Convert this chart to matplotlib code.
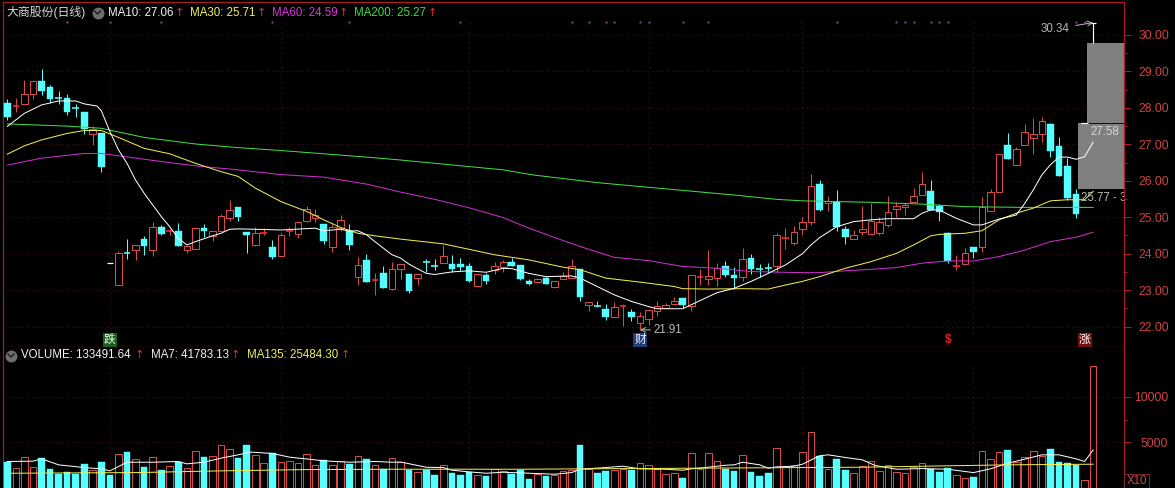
import matplotlib
matplotlib.use('Agg')
import matplotlib.pyplot as plt
from matplotlib.patches import Rectangle
from matplotlib.lines import Line2D
import numpy as np

plt.rcParams['font.family'] = ['Liberation Sans', 'Noto Sans CJK SC', 'DejaVu Sans']

opens = [28.14, 28.03, 28.10, 28.37, 28.74, 28.56, 28.29, 28.28, 28.00, 27.89,
         27.27, 27.31, 23.75, 23.13, 24.02, 24.10, 24.41, 24.09, 24.73, 24.62,
         24.63, 24.09, 24.14, 24.71, 24.49, 24.61, 24.99, 25.27, 24.60, 24.24,
         24.56, 24.19, 23.95, 24.60, 24.53, 24.90, 24.97, 24.82, 24.17, 24.70,
         24.61, 23.35, 23.82, 23.26, 23.46, 23.03, 23.58, 23.45, 23.33, 23.80,
         23.66, 23.75, 23.71, 23.72, 23.66, 23.10, 23.41, 23.56, 23.64, 23.78,
         23.69, 23.24, 23.21, 23.33, 23.09, 23.30, 23.33, 23.59, 22.59, 22.57,
         22.48, 22.25, 22.55, 22.40, 22.11, 22.20, 22.44, 22.52, 22.62, 22.78,
         22.57, 23.36, 23.30, 23.33, 23.66, 23.41, 23.35, 23.88, 23.60, 23.63,
         23.67, 24.41, 24.28, 24.69, 24.88, 25.91, 25.38, 25.43, 24.67, 24.40,
         24.59, 24.54, 24.58, 24.79, 25.22, 25.29, 25.41, 25.62, 25.71, 25.30,
         24.56, 23.64, 23.71, 24.18, 24.18, 25.18, 25.70, 26.98, 26.43, 26.97,
         27.17, 27.28, 27.56, 26.95, 26.40, 25.63, 27.58, 30.33]
closes = [27.74, 28.05, 28.37, 28.74, 28.45, 28.24, 28.27, 27.90, 27.98, 27.41,
          27.41, 26.39, 23.74, 24.03, 24.00, 24.23, 24.22, 24.73, 24.55, 24.64,
          24.21, 24.20, 24.70, 24.63, 24.62, 25.03, 25.19, 25.01, 24.52, 24.56,
          24.58, 23.92, 24.51, 24.62, 24.86, 25.22, 25.07, 24.36, 24.73, 24.92,
          24.24, 23.68, 23.23, 23.28, 23.05, 23.57, 23.71, 22.99, 23.44, 23.77,
          23.64, 23.95, 23.57, 23.64, 23.26, 23.44, 23.26, 23.67, 23.76, 23.67,
          23.31, 23.18, 23.30, 23.17, 23.24, 23.39, 23.65, 22.82, 22.67, 22.55,
          22.27, 22.55, 22.58, 22.27, 22.28, 22.45, 22.56, 22.60, 22.69, 22.60,
          23.41, 23.38, 23.39, 23.60, 23.41, 23.34, 23.85, 23.57, 23.58, 23.61,
          24.50, 24.43, 24.59, 24.86, 25.87, 25.20, 25.45, 24.72, 24.47, 24.50,
          24.69, 24.91, 24.87, 25.14, 25.32, 25.34, 25.59, 25.92, 25.20, 25.14,
          23.81, 23.66, 24.01, 24.06, 25.27, 25.70, 26.73, 26.61, 26.87, 27.33,
          27.27, 27.63, 26.83, 26.12, 25.53, 25.10, 27.59, 30.34]
highs = [28.25, 28.26, 28.77, 28.74, 29.06, 28.63, 28.47, 28.38, 28.11, 27.89,
         27.50, 27.31, 23.75, 24.07, 24.41, 24.23, 24.49, 24.86, 24.78, 24.67,
         24.84, 24.20, 24.70, 24.82, 24.62, 25.09, 25.47, 25.29, 24.60, 24.74,
         24.71, 24.38, 24.58, 24.74, 24.86, 25.31, 25.22, 24.82, 24.82, 25.06,
         24.82, 23.90, 23.99, 23.46, 23.66, 23.78, 23.71, 23.45, 23.44, 23.85,
         23.85, 24.24, 23.97, 23.88, 23.74, 23.44, 23.46, 23.77, 23.83, 23.88,
         23.69, 23.30, 23.33, 23.35, 23.24, 23.51, 23.86, 23.59, 22.67, 22.71,
         22.61, 22.67, 22.62, 22.49, 22.40, 22.45, 22.71, 22.66, 22.82, 22.78,
         23.41, 23.57, 24.10, 23.74, 23.80, 23.63, 24.15, 23.99, 23.72, 23.74,
         24.56, 24.70, 24.76, 25.02, 26.19, 26.02, 25.57, 25.75, 24.76, 24.65,
         25.31, 25.40, 25.02, 25.58, 25.43, 25.38, 25.80, 26.23, 26.02, 25.36,
         24.59, 23.97, 24.15, 24.18, 25.55, 25.77, 26.73, 27.30, 26.94, 27.56,
         27.72, 27.74, 27.58, 27.19, 26.62, 25.77, 27.59, 30.34]
lows = [27.67, 27.90, 28.10, 28.24, 28.35, 28.13, 28.11, 27.81, 27.74, 27.28,
        26.97, 26.25, 23.74, 23.13, 23.85, 23.83, 23.97, 23.94, 24.52, 24.52,
        24.21, 24.01, 24.14, 24.45, 24.34, 24.61, 24.90, 24.91, 24.01, 24.20,
        24.52, 23.86, 23.95, 24.49, 24.42, 24.88, 24.88, 24.27, 24.06, 24.61,
        24.09, 23.14, 23.21, 22.87, 23.05, 23.01, 23.30, 22.93, 23.13, 23.51,
        23.56, 23.75, 23.51, 23.53, 23.22, 23.10, 23.17, 23.45, 23.51, 23.65,
        23.28, 23.14, 23.21, 23.17, 23.05, 23.30, 23.33, 22.71, 22.43, 22.53,
        22.17, 22.25, 22.02, 22.14, 21.91, 22.05, 22.30, 22.50, 22.58, 22.52,
        22.44, 23.14, 23.14, 23.12, 23.37, 23.03, 23.26, 23.44, 23.35, 23.46,
        23.46, 24.13, 24.24, 24.50, 24.79, 25.16, 25.18, 24.61, 24.27, 24.40,
        24.51, 24.54, 24.52, 24.74, 25.02, 25.06, 25.41, 25.62, 25.20, 24.91,
        23.74, 23.54, 23.69, 23.88, 24.04, 25.18, 25.70, 26.61, 26.43, 26.97,
        26.74, 27.07, 26.66, 26.12, 25.48, 24.99, 27.58, 29.79]
volumes = [2830, 2170, 3390, 2280, 3280, 2060, 1580, 1730, 1580, 2610,
           2020, 2830, 1435, 3720, 3940, 3130, 2320, 3390, 1950, 2390,
           2830, 2240, 4010, 3420, 3500, 4710, 4270, 3310, 4710, 3610,
           2720, 3790, 2830, 2940, 2720, 3720, 2500, 3050, 2500, 2910,
           2610, 3500, 3160, 2500, 2060, 3280, 2830, 2020, 1730, 1950,
           1435, 2500, 1660, 1435, 1730, 1400, 1325, 2060, 1840, 1580,
           1990, 995, 1580, 1325, 1400, 1840, 1990, 4750, 2100, 1620,
           1880, 1950, 2100, 1990, 2720, 2500, 2100, 1510, 1620, 1070,
           3830, 2060, 3830, 2940, 2100, 1880, 3610, 1770, 1325, 1660,
           4380, 2280, 2500, 3940, 6150, 3530, 2100, 3200, 1990, 1620,
           2360, 2940, 1880, 2470, 1770, 1620, 2320, 2720, 2060, 1800,
           2210, 1435, 1070, 1215, 4050, 3160, 3940, 4200, 2800, 3390,
           4050, 3530, 4310, 2830, 2720, 2470, 850, 13349]

ma10_x = [0, 2, 4, 6, 8, 9, 10.5, 11, 12, 13, 14, 15, 16, 17, 18, 19, 20, 21, 22, 24, 25, 26, 27, 29, 32, 36, 37,
          39, 40, 41, 42, 43, 44, 45, 46, 47, 49, 50, 52, 54, 56, 58, 59, 61, 63, 66, 67, 69, 71, 73, 75, 76, 79,
          81, 83, 85, 87, 89, 91, 93, 94, 95, 97, 99, 101, 103, 106, 107, 108, 109, 111, 113, 114, 116, 118, 119,
          120, 121, 122, 123, 124, 125, 126, 127]
ma10_y = [27.49, 27.85, 28.08, 28.19, 28.19, 28.11, 28.05, 27.92, 27.35, 26.85, 26.48, 26.02, 25.66, 25.34, 25.02,
          24.74, 24.42, 24.24, 24.33, 24.49, 24.56, 24.67, 24.68, 24.67, 24.65, 24.70, 24.63, 24.67, 24.62, 24.63,
          24.52, 24.33, 24.15, 23.97, 23.88, 23.71, 23.46, 23.43, 23.50, 23.53, 23.49, 23.60, 23.59, 23.46, 23.37,
          23.39, 23.33, 23.10, 22.87, 22.69, 22.55, 22.49, 22.49, 22.71, 22.93, 23.05, 23.24, 23.46, 23.69, 24.00,
          24.24, 24.44, 24.74, 24.88, 24.93, 24.96, 24.96, 25.11, 25.20, 25.20, 24.97, 24.79, 24.79, 24.95, 25.06,
          25.38, 25.75, 26.16, 26.44, 26.65, 26.65, 26.59, 26.66, 27.06]
ma30_x = [0, 2, 4, 7, 9, 11, 13, 16, 19, 22, 25, 27, 29, 32, 35, 37, 39, 41, 43, 46, 51, 54, 57, 61, 65, 67, 70, 74,
          78, 79, 82, 86, 89, 91, 93, 95, 98, 101, 104, 106, 108, 109, 112, 114, 116, 118, 120, 122, 124, 126, 127]
ma30_y = [26.73, 26.96, 27.12, 27.30, 27.38, 27.38, 27.19, 26.89, 26.74, 26.48, 26.25, 26.12, 25.80, 25.43, 25.16,
          24.93, 24.72, 24.56, 24.49, 24.40, 24.27, 24.12, 23.97, 23.83, 23.63, 23.56, 23.33, 23.22, 23.10, 23.04,
          23.03, 23.04, 23.03, 23.14, 23.24, 23.37, 23.60, 23.78, 24.01, 24.24, 24.49, 24.53, 24.56, 24.63, 24.93,
          25.11, 25.25, 25.45, 25.48, 25.48, 25.71]
ma60_x = [0, 4, 9, 11, 16, 22, 27, 32, 37, 42, 46, 50, 54, 58, 61, 65, 68, 71, 75, 79, 83, 87, 93, 95, 98, 101, 104,
          107, 110, 113, 116, 119, 122, 125, 127]
ma60_y = [26.43, 26.62, 26.75, 26.75, 26.59, 26.41, 26.30, 26.17, 26.10, 25.91, 25.69, 25.49, 25.26, 24.99, 24.70,
          24.36, 24.12, 23.90, 23.81, 23.65, 23.60, 23.51, 23.48, 23.48, 23.53, 23.57, 23.62, 23.74, 23.80, 23.80,
          23.92, 24.10, 24.33, 24.45, 24.59]
ma200_x = [0, 7, 11, 16, 22, 27, 32, 37, 42, 46, 58, 61.5, 69, 76, 85, 90, 93, 101, 107, 112, 119, 127]
ma200_y = [27.56, 27.50, 27.44, 27.19, 27.01, 26.91, 26.83, 26.74, 26.65, 26.57, 26.30, 26.16, 25.95, 25.80, 25.61,
           25.49, 25.45, 25.41, 25.36, 25.29, 25.27, 25.27]

vol_ma7_x = [0, 3, 4, 6, 9, 11, 12, 14, 17, 20, 21, 23, 25, 27, 28.5, 31, 33, 36, 37, 40, 43, 45, 46, 48, 49, 51, 52,
             54, 56, 58, 61, 64, 66, 67, 70, 72, 74, 77, 79, 80, 82, 84, 85, 86, 88, 89, 90, 92, 93, 95, 96, 98, 100,
             101.5, 104, 107, 110, 113, 115, 117, 119, 121, 123, 125, 126, 127]
vol_ma7_y = [2910, 2940, 3200, 2540, 2240, 2100, 1880, 2830, 2830, 2910, 2650, 2830, 3275, 3640, 3940, 3790, 3385,
             3090, 2980, 2830, 2910, 2830, 2850, 2470, 2280, 2245, 1950, 1770, 1620, 1730, 1620, 1510, 1690, 2060,
             2245, 2390, 2100, 2060, 1950, 2100, 2280, 2500, 2540, 2830, 2540, 2170, 2320, 2390, 2610, 3530, 3640,
             3350, 3090, 2470, 2060, 2130, 2060, 1690, 2100, 2720, 3165, 3640, 3640, 3200, 2910, 4178]
vol_ma135_x = [0, 15, 25, 35, 46, 60, 80, 100, 117, 127]
vol_ma135_y = [1620, 1690, 1880, 2020, 2060, 2060, 2170, 2280, 2540, 2610]

limit_bars = [12, 126, 127]
signal_dots = [7, 12, 18, 31, 40, 53, 66, 68, 70, 71, 74, 75, 79, 82, 97, 104, 105, 106, 108, 109, 110, 125, 126]
grid_bars = [12, 32, 54, 75, 93, 113]
gap_bars = [125, 126]
gap_low = [25.77, 27.58]
gap_high = [27.58, 29.79]
price_ticks = [22, 23, 24, 25, 26, 27, 28, 29, 30]
vol_ticks = [5000, 10000]

opens = np.array(opens)
closes = np.array(closes)
highs = np.array(highs)
lows = np.array(lows)
volumes = np.array(volumes)
xs = np.arange(len(opens))
up = closes > opens

RED = '#d84a4a'
CYAN = '#55ffff'
AXIS = '#a81c24'
GRID = '#5e1a1a'
LABEL = '#cf4444'
PX = 0.72  # one pixel in points at dpi 100


def pt(x, y):
    return x / 1175, 1 - y / 488


fig = plt.figure(figsize=(11.75, 4.88), dpi=100, facecolor='black')
ax1 = fig.add_axes([3 / 1175, 1 - 347 / 488, 1120.5 / 1175, 345 / 488], facecolor='black')
ax2 = fig.add_axes([3 / 1175, 0, 1120.5 / 1175, 141 / 488], facecolor='black')
x_left, x_right = -0.503, 130.55
width = 0.78

for ax in (ax1, ax2):
    ax.set_xlim(x_left, x_right)
    ax.set_xticks([])
    for s in ax.spines.values():
        s.set_color(AXIS)
        s.set_linewidth(PX * 1.2)
    ax.yaxis.tick_right()
ax2.spines['bottom'].set_visible(False)
ax2.spines['top'].set_visible(False)

# price panel
ax1.set_ylim(21.44, 30.905)
ax1.set_yticks(price_ticks)
ax1.set_yticklabels(['%.2f' % t for t in price_ticks])
ax1.set_yticks(np.array(price_ticks[:-1]) + 0.5, minor=True)
ax1.tick_params(axis='y', which='major', colors=AXIS, labelcolor=LABEL, length=5, width=PX, pad=5.5, labelsize=8.7)
ax1.tick_params(axis='y', which='minor', colors=AXIS, length=2.5, width=PX)
ax1.hlines(price_ticks, 0, x_right, color=GRID, lw=PX, linestyles=(0, (1, 4)), zorder=1)
ax1.vlines(grid_bars, 21.82, 30.36, color=GRID, lw=PX, linestyles=(0, (1, 4)), zorder=1)

for b, lo, hi in zip(gap_bars, gap_low, gap_high):
    ax1.add_patch(Rectangle((b + 0.27, lo), x_right - b - 0.27, hi - lo, facecolor='#808080', edgecolor='none', zorder=2))
ax1.hlines(gap_low[1], gap_bars[1] + 0.27, x_right, color='#101010', lw=PX, zorder=2)

for i in xs:
    if i in limit_bars:
        ax1.vlines(i, lows[i], highs[i], color='white', lw=PX * 1.2, zorder=4)
        ax1.hlines(highs[i], i - width / 2, i + width / 2, color='white', lw=PX * 1.2, zorder=4)
        continue
    col = RED if up[i] else CYAN
    ax1.vlines(i, lows[i], highs[i], color=col, lw=PX, zorder=3)
    if abs(closes[i] - opens[i]) < 0.04:
        ax1.hlines((opens[i] + closes[i]) / 2, i - width / 2, i + width / 2,
                   color='#ff2830' if up[i] else CYAN, lw=PX * 1.6, zorder=4)
    elif up[i]:
        ax1.bar(i, closes[i] - opens[i], width, opens[i], facecolor='black', edgecolor=col, lw=PX, zorder=4)
    else:
        ax1.bar(i, opens[i] - closes[i], width, closes[i], facecolor=col, edgecolor=col, lw=0.3, zorder=4)

ax1.plot(ma200_x, ma200_y, color='#40e040', lw=PX, zorder=5)
ax1.plot(ma60_x, ma60_y, color='#d030d0', lw=PX, zorder=5)
ax1.plot(ma30_x, ma30_y, color='#f0f050', lw=PX, zorder=5)
ax1.plot(ma10_x, ma10_y, color='white', lw=PX, zorder=6)
ax1.plot(signal_dots, [30.36] * len(signal_dots), ls='none', marker='s', ms=1.4, mew=0, color='#a040a0', zorder=5)

# marks at the foot of the price panel
marks = [(12, '跌', '#1d5e1d', '#e8ffe8'), (74, '财', '#1f3f78', '#f0f0ff'), (126, '涨', '#701010', '#ffffff')]
for b, s, bg, fg in marks:
    ax1.text(b, 21.64, s, color=fg, fontsize=8.5, ha='center', va='center', zorder=7,
             bbox=dict(facecolor=bg, edgecolor='none', pad=0.8))
ax1.text(110, 21.64, '$', color='#e02020', fontsize=8.5, fontweight='bold', ha='center', va='center', zorder=7)

GREY = '#b8b8b8'
ax1.annotate('21.91', xy=(74, 21.91), xytext=(9.5, 0), textcoords='offset points', color=GREY, fontsize=8.3,
             va='center', arrowprops=dict(arrowstyle='->', color=GREY, lw=PX, shrinkA=0, shrinkB=0), zorder=7)
ax1.annotate('30.34', xy=(127, 30.34), xytext=pt(1069, 29), textcoords='figure fraction', color=GREY, fontsize=8.3,
             ha='right', va='center', arrowprops=dict(arrowstyle='->', color=GREY, lw=PX, shrinkA=3, shrinkB=0), zorder=7)
ax1.text(*pt(1090, 132), '27.58', transform=fig.transFigure, color='#d8d8d8', fontsize=8.3, va='center', zorder=7)
ax1.text(*pt(1081, 198), '25.77 - 30.34', transform=fig.transFigure, color=GREY, fontsize=8.3, va='center',
         zorder=7, clip_on=True)

# volume panel
ax2.set_ylim(0, 15470)
ax2.set_yticks(vol_ticks)
ax2.set_yticklabels([str(t) for t in vol_ticks], ha='right')
ax2.set_yticks([7500], minor=True)
ax2.tick_params(axis='y', which='major', colors=AXIS, labelcolor=LABEL, length=5, width=PX, pad=27, labelsize=8.7)
ax2.tick_params(axis='y', which='minor', colors=AXIS, length=2.5, width=PX)
ax2.hlines(vol_ticks, 0, x_right, color=GRID, lw=PX, linestyles=(0, (1, 4)), zorder=1)
ax2.vlines(grid_bars, 0, 13300, color=GRID, lw=PX, linestyles=(0, (1, 4)), zorder=1)
ax2.bar(xs[~up], volumes[~up], width, facecolor=CYAN, edgecolor=CYAN, lw=0.3, zorder=3)
ax2.bar(xs[up], volumes[up], width, facecolor='black', edgecolor=RED, lw=PX, zorder=3)
ax2.plot(vol_ma7_x, vol_ma7_y, color='white', lw=PX, zorder=4)
ax2.plot(vol_ma135_x, vol_ma135_y, color='#f0f050', lw=PX, zorder=5)

# header texts
top_y = 12.5
vol_y = 355.5
header = [(108, 'MA10: 27.06', '#f4f4f4', 179), (190, 'MA30: 25.71', '#f0f060', 261),
          (272, 'MA60: 24.59', '#d838d8', 343), (354, 'MA200: 25.27', '#40e040', 432)]
fig.text(*pt(6, top_y), '大商股份(日线)', color='#d8d8d8', fontsize=8.6, va='center')
for x, s, c, ax_x in header:
    fig.text(*pt(x, top_y), s, color=c, fontsize=8.3, va='center')
    fig.text(*pt(ax_x, top_y), '↑', color='#e83030', fontsize=8, ha='center', va='center', family='DejaVu Sans')
vol_header = [(21, 'VOLUME: 133491.64', '#f4f4f4', 139), (150.7, 'MA7: 41783.13', '#f4f4f4', 235),
              (246.7, 'MA135: 25484.30', '#f0f060', 345)]
for x, s, c, ax_x in vol_header:
    fig.text(*pt(x, vol_y), s, color=c, fontsize=8.3, va='center')
    fig.text(*pt(ax_x, vol_y), '↑', color='#e83030', fontsize=8, ha='center', va='center', family='DejaVu Sans')

for cx, cy in [(97.5, top_y), (11, vol_y)]:
    fig.add_artist(Line2D([cx / 1175], [1 - cy / 488], marker='o', ms=8.6, color='#6e6e6e', mec='none',
                          transform=fig.transFigure))
    fig.add_artist(Line2D([(cx - 3) / 1175, cx / 1175, (cx + 3) / 1175],
                          [1 - (cy - 1.5) / 488, 1 - (cy + 1.5) / 488, 1 - (cy - 1.5) / 488],
                          color='#1a1a1a', lw=1.0, transform=fig.transFigure))

# X10 box in the corner
fig.add_artist(Rectangle((1124 / 1175, 0), 25 / 1175, 14 / 488, facecolor='black', edgecolor='#80242a', lw=PX,
                         transform=fig.transFigure))
fig.text(*pt(1136.5, 481.5), 'X10', color=LABEL, fontsize=8.3, ha='center', va='center')

fig.savefig('out.png', dpi=100, facecolor='black')
